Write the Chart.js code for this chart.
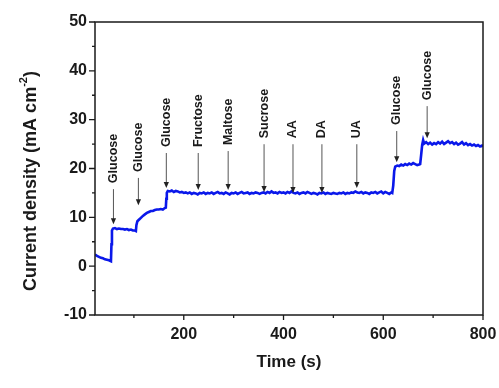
<!DOCTYPE html>
<html>
<head>
<meta charset="utf-8">
<script src="https://cdn.jsdelivr.net/npm/chart.js@4.4.1/dist/chart.umd.min.js"></script>
<style>
  body { margin: 0; background: #fff; }
  #wrap { width: 499px; height: 388px; }
</style>
</head>
<body>
<div id="wrap"><canvas id="ampChart" width="499" height="388"></canvas></div>
<script>
// amperometric response, time in s and current density in mA cm-2
const timeSec = [
  22, 26, 30, 34, 38, 42, 46, 50, 54,
  55, 56, 58,
  62, 66, 70, 74, 78, 82, 86, 90, 94, 98, 102, 104,
  105, 107, 110,
  114, 118, 122, 126, 130, 134, 138, 142, 146, 150, 154, 158, 162, 164,
  165, 166, 168,
  172, 176, 180, 184, 188, 192, 196, 200, 204, 208, 212, 216, 220, 224, 228, 232, 236, 240,
  244, 248, 252, 256, 260, 264, 268, 272, 276, 280, 284, 288, 292, 296, 300, 304, 308, 312,
  316, 320, 324, 328, 332, 336, 340, 344, 348, 352, 356, 360, 364, 368, 372, 376, 380, 384,
  388, 392, 396, 400, 404, 408, 412, 416, 420, 424, 428, 432, 436, 440, 444, 448, 452, 456,
  460, 464, 468, 472, 476, 480, 484, 488, 492, 496, 500, 504, 508, 512, 516, 520, 524, 528,
  532, 536, 540, 544, 548, 552, 556, 560, 564, 568, 572, 576, 580, 584, 588, 592, 596, 600,
  604, 608, 612, 616, 618,
  620, 622, 624, 628,
  632, 636, 640, 644, 648, 652, 656, 660, 664, 668, 672, 674,
  676, 678, 680, 682,
  686, 690, 694, 698, 702, 706, 710, 714, 718, 722, 726, 730, 734, 738, 742, 746, 750, 754,
  758, 762, 766, 770, 774, 778, 782, 786, 790, 794, 798, 800
];
const currentDensity = [
  2.4, 2.1, 1.9, 1.7, 1.6, 1.4, 1.3, 1.2, 1.0,
  4.5, 7.3, 7.7,
  7.8, 7.6, 7.7, 7.6, 7.6, 7.5, 7.6, 7.4, 7.5, 7.3, 7.3, 7.2,
  8.4, 9.2, 9.5,
  9.9, 10.3, 10.6, 10.9, 11.1, 11.3, 11.3, 11.5, 11.6, 11.6, 11.7, 11.6, 11.9, 12.0,
  13.8, 15.0, 15.4,
  15.3, 15.5, 15.2, 15.4, 15.3, 15.1, 15.2, 15.0, 15.1, 14.9, 15.1, 14.8, 15.0, 14.9, 14.7, 15.0, 14.9, 15.1,
  14.8, 15.0, 14.9, 15.1, 14.8, 15.0, 15.2, 14.9, 15.0, 14.8, 15.1, 14.9, 14.7, 15.0, 14.9, 15.1, 14.8, 15.0,
  15.2, 14.9, 15.0, 15.1, 14.8, 15.0, 14.9, 15.1, 15.0, 14.8, 15.0, 15.1, 14.9, 15.2, 15.0, 15.3, 15.0, 15.1,
  14.9, 15.2, 15.0, 15.1, 14.9, 15.2, 15.0, 15.3, 15.0, 14.9, 15.1, 14.8, 15.0, 15.1, 14.9, 15.2, 15.0, 14.8,
  15.0, 14.9, 14.7, 15.0, 14.9, 15.1, 14.8, 15.0, 14.9, 14.8, 15.0, 14.9, 14.8, 15.0, 14.9, 15.1, 14.8, 15.0,
  14.9, 15.1, 15.0, 15.3, 15.1, 15.0, 15.2, 14.9, 15.1, 15.0, 14.8, 15.1, 15.0, 15.2, 14.9, 15.1, 15.3, 14.9,
  15.2, 15.0, 14.8, 15.1, 15.0,
  16.5, 19.5, 20.4, 20.6,
  20.5, 20.8, 20.6, 20.9, 20.7, 21.0, 20.8, 21.1, 20.9, 20.7, 20.8, 20.9,
  22.8, 24.8, 25.8, 25.1,
  25.4, 25.0, 25.3, 24.9, 25.2, 25.0, 25.4, 25.1, 25.5, 25.0, 25.3, 25.6, 25.2, 25.4, 25.0, 25.3, 24.9, 25.1,
  25.4, 24.9, 25.2, 24.8, 25.0, 24.7, 24.9, 24.6, 24.8, 24.5, 24.7, 24.5
];

// injections: time of addition, arrow tip and label start (in mA cm-2)
const injectNames = ["Glucose", "Glucose", "Glucose", "Fructose", "Maltose", "Sucrose", "AA", "DA", "UA", "Glucose", "Glucose"];
const injectTimes = [59, 109, 165, 229, 289, 361, 419, 477, 547, 627, 688];
const arrowTips   = [8.6, 12.5, 16.0, 15.6, 15.6, 15.2, 15.0, 15.0, 16.0, 21.3, 26.2];
const labelStarts = [17.0, 19.3, 24.4, 24.4, 24.8, 26.2, 26.2, 26.2, 26.2, 28.9, 34.0];

const xMajor = [200, 400, 600, 800];
const xMinor = [100, 300, 500, 700];
const yMajor = [-10, 0, 10, 20, 30, 40, 50];
const yMinor = [-5, 5, 15, 25, 35, 45];

const FONT = "'Liberation Sans', Arial, sans-serif";
const INK = "#1a1a1a";

const points = timeSec.map((t, i) => ({ x: t, y: currentDensity[i] }));

const framePlugin = {
  id: "frame",
  afterDraw(chart) {
    const ctx = chart.ctx;
    const a = chart.chartArea;
    const xs = chart.scales.x;
    const ys = chart.scales.y;
    ctx.save();

    // box
    ctx.strokeStyle = INK;
    ctx.lineWidth = 1.5;
    ctx.strokeRect(a.left, a.top, a.right - a.left, a.bottom - a.top);

    // outward ticks
    ctx.lineWidth = 1.3;
    ctx.beginPath();
    yMajor.forEach(v => { const y = ys.getPixelForValue(v); ctx.moveTo(a.left, y); ctx.lineTo(a.left - 6, y); });
    yMinor.forEach(v => { const y = ys.getPixelForValue(v); ctx.moveTo(a.left, y); ctx.lineTo(a.left - 3, y); });
    xMajor.forEach(v => { const x = xs.getPixelForValue(v); ctx.moveTo(x, a.bottom); ctx.lineTo(x, a.bottom + 5); });
    xMinor.forEach(v => { const x = xs.getPixelForValue(v); ctx.moveTo(x, a.bottom); ctx.lineTo(x, a.bottom + 3); });
    ctx.stroke();

    // injection arrows and labels
    injectNames.forEach((name, i) => {
      const x = xs.getPixelForValue(injectTimes[i]);
      const yTip = ys.getPixelForValue(arrowTips[i]);
      const yBase = ys.getPixelForValue(labelStarts[i]);
      ctx.strokeStyle = "#555";
      ctx.lineWidth = 1;
      ctx.beginPath();
      ctx.moveTo(x, yBase + 6);
      ctx.lineTo(x, yTip - 5);
      ctx.stroke();
      ctx.fillStyle = "#222";
      ctx.beginPath();
      ctx.moveTo(x, yTip);
      ctx.lineTo(x - 2.6, yTip - 6);
      ctx.lineTo(x + 2.6, yTip - 6);
      ctx.closePath();
      ctx.fill();

      ctx.save();
      ctx.translate(x, yBase);
      ctx.rotate(-Math.PI / 2);
      ctx.fillStyle = INK;
      ctx.font = "bold 12.5px " + FONT;
      ctx.textAlign = "left";
      ctx.textBaseline = "middle";
      ctx.fillText(name, 0, 0);
      ctx.restore();
    });

    // axis titles
    ctx.fillStyle = INK;
    ctx.textBaseline = "middle";
    ctx.textAlign = "center";
    ctx.font = "bold 17px " + FONT;
    ctx.fillText("Time (s)", (a.left + a.right) / 2, 362);

    ctx.save();
    ctx.translate(31, 181);
    ctx.rotate(-Math.PI / 2);
    const main = "Current density (mA cm";
    ctx.font = "bold 18px " + FONT;
    const wMain = ctx.measureText(main).width;
    const wClose = ctx.measureText(")").width;
    ctx.font = "bold 11px " + FONT;
    const wSup = ctx.measureText("-2").width;
    let cx = -(wMain + wSup + wClose) / 2;
    ctx.textAlign = "left";
    ctx.font = "bold 18px " + FONT;
    ctx.fillText(main, cx, 0);
    cx += wMain;
    ctx.font = "bold 11px " + FONT;
    ctx.fillText("-2", cx, -7);
    cx += wSup;
    ctx.font = "bold 18px " + FONT;
    ctx.fillText(")", cx, 0);
    ctx.restore();

    ctx.restore();
  }
};

new Chart(document.getElementById("ampChart"), {
  type: "line",
  data: {
    datasets: [
      {
        data: points,
        borderColor: "#0a18ea",
        borderWidth: 2.6,
        pointRadius: 0,
        tension: 0,
        fill: false,
      },
    ],
  },
  options: {
    responsive: false,
    animation: false,
    events: [],
    layout: { padding: { left: 0, top: 22, right: 16, bottom: 0 } },
    plugins: {
      legend: { display: false },
      tooltip: { enabled: false },
    },
    scales: {
      x: {
        type: "linear",
        min: 22,
        max: 800,
        afterBuildTicks: (scale) => { scale.ticks = xMajor.map(v => ({ value: v })); },
        afterFit: (scale) => {
          scale.height = 73;
          scale.paddingLeft = 0;
          scale.paddingRight = 0;
        },
        grid: { display: false, drawTicks: false },
        border: { display: false },
        ticks: {
          padding: 10,
          color: INK,
          font: { family: FONT, size: 16, weight: "bold" },
        },
      },
      y: {
        type: "linear",
        min: -10,
        max: 50,
        afterBuildTicks: (scale) => { scale.ticks = yMajor.map(v => ({ value: v })); },
        afterFit: (scale) => {
          scale.width = 95;
          scale.paddingTop = 0;
          scale.paddingBottom = 0;
        },
        grid: { display: false, drawTicks: false },
        border: { display: false },
        ticks: {
          padding: 8,
          color: INK,
          font: { family: FONT, size: 16, weight: "bold" },
        },
      },
    },
  },
  plugins: [framePlugin],
});
</script>
</body>
</html>
